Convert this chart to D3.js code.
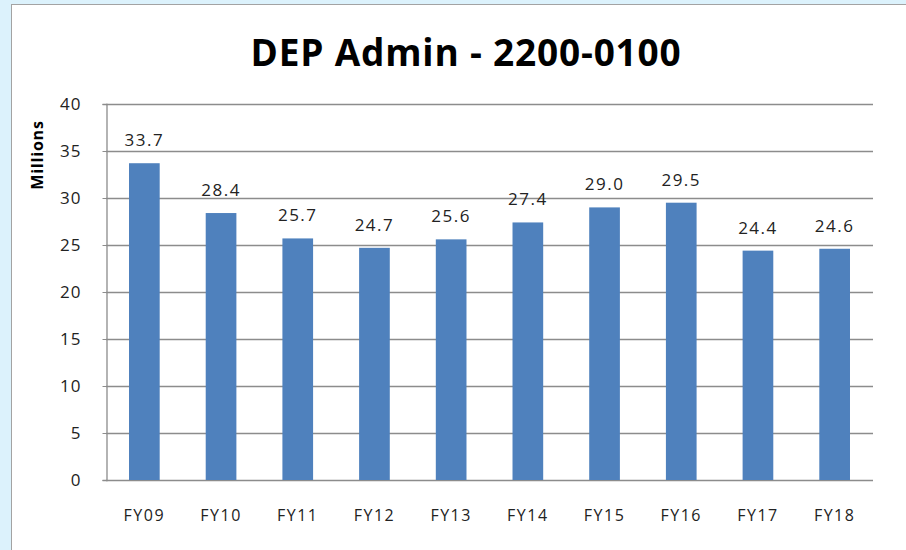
<!DOCTYPE html>
<html>
<head>
<meta charset="utf-8">
<script src="https://cdn.jsdelivr.net/npm/d3@7"></script>
<style>
  body { margin: 0; background: #dcf2fc; }
  svg { display: block; }
</style>
</head>
<body>
<svg id="chart" width="906" height="550"></svg>
<script>
// Chart data
const years = ['FY09', 'FY10', 'FY11', 'FY12', 'FY13', 'FY14', 'FY15', 'FY16', 'FY17', 'FY18'];
const amounts = [33.7, 28.4, 25.7, 24.7, 25.6, 27.4, 29.0, 29.5, 24.4, 24.6];
const yTicks = [0, 5, 10, 15, 20, 25, 30, 35, 40];

const svg = d3.select('#chart');
const font = "'Open Sans', sans-serif";

// White chart panel with grey frame
svg.append('rect')
  .attr('x', 11.5).attr('y', 4.5)
  .attr('width', 900).attr('height', 560)
  .attr('fill', '#fff')
  .attr('stroke', '#a3a3a3');

const plot = { left: 106, top: 104, right: 873, bottom: 480 };

const x = d3.scaleBand()
  .domain(years)
  .range([plot.left, plot.right])
  .paddingInner(0.6)
  .paddingOuter(0.3);

const y = d3.scaleLinear()
  .domain([0, 40])
  .range([plot.bottom, plot.top]);

// Gridlines
svg.append('g')
  .selectAll('line')
  .data(yTicks)
  .join('line')
  .attr('x1', plot.left).attr('x2', plot.right)
  .attr('y1', d => Math.round(y(d)) + 0.5)
  .attr('y2', d => Math.round(y(d)) + 0.5)
  .attr('stroke', '#8c8c8c')
  .attr('stroke-width', 1.3);

// Left axis
const yAxis = svg.append('g')
  .attr('transform', `translate(${plot.left + 0.5},0)`)
  .call(d3.axisLeft(y).tickValues(yTicks).tickSize(4).tickPadding(21));
yAxis.select('.domain').attr('stroke', '#8c8c8c').attr('stroke-width', 1.3);
yAxis.selectAll('.tick line').attr('stroke', '#8c8c8c');
yAxis.selectAll('text')
  .attr('font-family', font).attr('font-size', 17)
  .attr('letter-spacing', 1).attr('fill', '#222');

// Bars
svg.append('g')
  .selectAll('rect')
  .data(amounts)
  .join('rect')
  .attr('x', (d, i) => x(years[i]))
  .attr('y', d => y(d))
  .attr('width', x.bandwidth())
  .attr('height', d => plot.bottom - y(d))
  .attr('fill', '#4f81bd');

// Value labels
svg.append('g')
  .selectAll('text')
  .data(amounts)
  .join('text')
  .attr('x', (d, i) => x(years[i]) + x.bandwidth() / 2)
  .attr('y', d => y(d) - 17)
  .attr('text-anchor', 'middle')
  .attr('font-family', font)
  .attr('font-size', 17)
  .attr('letter-spacing', 1.5)
  .attr('fill', '#222')
  .text(d => d.toFixed(1));

// Category labels
svg.append('g')
  .selectAll('text')
  .data(years)
  .join('text')
  .attr('x', d => x(d) + x.bandwidth() / 2)
  .attr('y', 521)
  .attr('text-anchor', 'middle')
  .attr('font-family', font)
  .attr('font-size', 16)
  .attr('letter-spacing', 1.5)
  .attr('fill', '#222')
  .text(d => d);

// Axis title
svg.append('text')
  .attr('transform', 'translate(43,155) rotate(-90)')
  .attr('text-anchor', 'middle')
  .attr('font-family', font)
  .attr('font-size', 16)
  .attr('font-weight', 'bold')
  .attr('letter-spacing', 0.8)
  .attr('fill', '#000')
  .text('Millions');

// Chart title
svg.append('text')
  .attr('x', 466)
  .attr('y', 66)
  .attr('text-anchor', 'middle')
  .attr('font-family', font)
  .attr('font-size', 37)
  .attr('font-weight', 'bold')
  .attr('letter-spacing', 0.8)
  .attr('fill', '#000')
  .text('DEP Admin - 2200-0100');
</script>
</body>
</html>
